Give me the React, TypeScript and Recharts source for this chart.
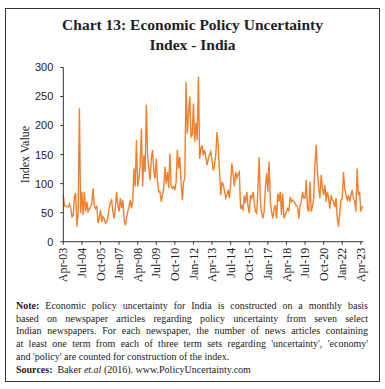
import { LineChart, Line, XAxis, YAxis } from "recharts";

// monthly EPU index, Apr-03 .. Jun-23
const Y2003 = [80, 62, 62, 60, 60, 65, 58, 43, 45];
const Y2004 = [78, 84, 26, 52, 230, 49, 86, 46, 86, 52, 69, 52];
const Y2005 = [56, 60, 65, 92, 62, 57, 62, 32, 40, 55, 34, 43];
const Y2006 = [40, 32, 34, 43, 57, 68, 72, 52, 40, 58, 86, 62];
const Y2007 = [52, 75, 58, 72, 40, 28, 40, 52, 60, 72, 58, 69];
const Y2008 = [126, 95, 175, 95, 109, 132, 195, 95, 149, 120, 236, 149];
const Y2009 = [126, 106, 143, 158, 120, 109, 143, 103, 86, 86, 69, 80];
const Y2010 = [92, 129, 100, 120, 92, 152, 95, 92, 95, 89, 103, 158];
const Y2011 = [126, 146, 103, 72, 103, 109, 275, 186, 221, 250, 181, 184];
const Y2012 = [238, 172, 205, 175, 284, 143, 160, 166, 149, 158, 145, 132];
const Y2013 = [143, 150, 155, 138, 123, 132, 150, 189, 166, 120, 80, 103];
const Y2014 = [98, 88, 75, 80, 89, 75, 100, 135, 115, 95, 120, 110];
const Y2015 = [117, 120, 57, 62, 54, 80, 66, 86, 62, 49, 80, 75];
const Y2016 = [86, 70, 52, 49, 90, 146, 69, 50, 40, 52, 92, 118];
const Y2017 = [86, 138, 69, 52, 40, 57, 63, 40, 83, 69, 86, 46];
const Y2018 = [83, 40, 46, 52, 57, 52, 77, 69, 72, 69, 66, 62];
const Y2019 = [60, 40, 62, 69, 86, 75, 75, 106, 57, 52, 103, 52];
const Y2020 = [60, 75, 132, 167, 120, 92, 75, 115, 92, 80, 98, 69];
const Y2021 = [86, 75, 57, 80, 72, 69, 60, 75, 40, 26, 50, 72];
const Y2022 = [75, 120, 92, 80, 72, 80, 69, 80, 89, 75, 70, 52];
const Y2023 = [126, 80, 86, 52, 60, 60];

const VALUES = [
  ...Y2003, ...Y2004, ...Y2005, ...Y2006, ...Y2007, ...Y2008, ...Y2009,
  ...Y2010, ...Y2011, ...Y2012, ...Y2013, ...Y2014, ...Y2015, ...Y2016,
  ...Y2017, ...Y2018, ...Y2019, ...Y2020, ...Y2021, ...Y2022, ...Y2023,
];

const TICK_INDEX = [0, 15, 30, 45, 60, 75, 90, 105, 120, 135, 150, 165, 180, 195, 210, 225, 240];
const TICK_LABELS = [
  "Apr-03", "Jul-04", "Oct-05", "Jan-07", "Apr-08", "Jul-09", "Oct-10", "Jan-12",
  "Apr-13", "Jul-14", "Oct-15", "Jan-17", "Apr-18", "Jul-19", "Oct-20", "Jan-22", "Apr-23",
];
const Y_TICKS = [0, 50, 100, 150, 200, 250, 300];

const ORANGE = "#F0802E";
const AXIS = "#333";
const SERIF = "'Liberation Serif', 'DejaVu Serif', serif";
const SANS = "'Liberation Sans', Arial, sans-serif";

const data = VALUES.map((v, i) => ({ i, v }));

// eslint-disable-next-line @typescript-eslint/no-explicit-any
function XTick({ x, y, payload }: any) {
  const k = TICK_INDEX.indexOf(payload.value);
  const ty = y + 1;
  return (
    <text x={x} y={ty} transform={`rotate(-90, ${x}, ${ty})`} textAnchor="end"
      dy="0.35em" fontSize={12} fontFamily={SERIF} fill="#222">
      {TICK_LABELS[k]}
    </text>
  );
}

export default function App() {
  return (
    <div style={{ position: "absolute", left: 0, top: 0, width: 385, height: 389, background: "#fff" }}>
      <div style={{
        position: "absolute", left: 5, top: 8, width: 373, height: 372,
        border: "1.5px solid #333",
      }} />
      <div style={{
        position: "absolute", left: 0, top: 15, width: 385, textAlign: "center",
        fontFamily: SERIF, fontWeight: 700, fontSize: 15.5, lineHeight: "20px", color: "#1e1e2a",
      }}>
        <div>Chart 13: Economic Policy Uncertainty</div>
        <div>Index - India</div>
      </div>

      <div style={{ position: "absolute", left: 0, top: 0 }}>
        <LineChart width={385} height={290} data={data}
          margin={{ top: 67.5, right: 21.7, left: 0, bottom: 0 }}>
          <XAxis
            dataKey="i"
            type="number"
            domain={[0, 242]}
            ticks={TICK_INDEX}
            interval={0}
            tick={<XTick />}
            tickSize={3}
            height={48.3}
            stroke={AXIS}
          />
          <YAxis
            domain={[0, 300]}
            ticks={Y_TICKS}
            interval={0}
            width={63.3}
            tickSize={3}
            tickMargin={7}
            stroke={AXIS}
            tick={{ fontSize: 11, fontFamily: SANS, fill: "#222" }}
            label={{
              value: "Index Value", angle: -90, position: "insideLeft", dx: 20,
              style: { fontSize: 12, fontFamily: SERIF, fill: "#222", textAnchor: "middle" },
            }}
          />
          <Line type="linear" dataKey="v" stroke={ORANGE} strokeWidth={1.4} dot={false}
            activeDot={false} isAnimationActive={false} />
        </LineChart>
      </div>

      <div style={{
        position: "absolute", left: 16, top: 300, width: 352,
        fontFamily: SERIF, fontSize: 10, lineHeight: "12.7px", color: "#222",
      }}>
        <div style={{ textAlign: "justify", textAlignLast: "justify", whiteSpace: "nowrap" }}>
          <b>Note:</b> Economic policy uncertainty for India is constructed on a monthly basis
        </div>
        <div style={{ textAlign: "justify", textAlignLast: "justify", whiteSpace: "nowrap" }}>
          based on newspaper articles regarding policy uncertainty from seven select
        </div>
        <div style={{ textAlign: "justify", textAlignLast: "justify", whiteSpace: "nowrap" }}>
          Indian newspapers. For each newspaper, the number of news articles containing
        </div>
        <div style={{ textAlign: "justify", textAlignLast: "justify", whiteSpace: "nowrap" }}>
          at least one term from each of three term sets regarding 'uncertainty', 'economy'
        </div>
        <div style={{ whiteSpace: "nowrap" }}>
          and 'policy' are counted for construction of the index.
        </div>
        <div style={{ whiteSpace: "nowrap" }}>
          <b>Sources:</b>&nbsp; Baker <i>et.al</i> (2016). www.PolicyUncertainty.com
        </div>
      </div>
    </div>
  );
}
